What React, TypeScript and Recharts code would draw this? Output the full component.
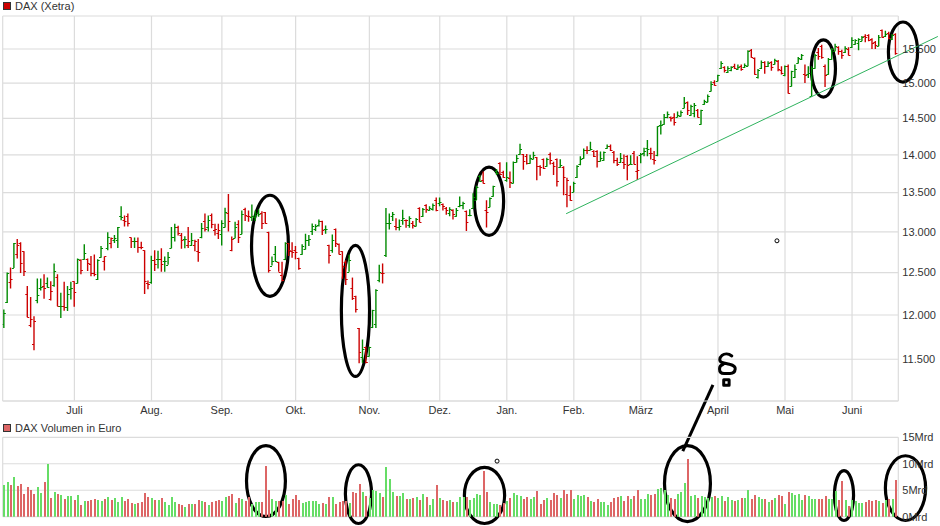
import React from 'react';
import { ComposedChart, Bar, Cell, XAxis, YAxis, CartesianGrid, ReferenceLine, ReferenceArea, ReferenceDot } from 'recharts';

const FONT = '"Liberation Sans", Arial, sans-serif';
const GRID = '#dcdcdc';

const highs = [
  12065,12500,12560,12860,12910,12870,12760,12340,12210,11985,
  12430,12430,12480,12440,12395,12610,12480,12260,12390,12340,
  12390,12395,12670,12660,12845,12670,12700,12720,12660,12825,
  12695,12995,12930,12960,13060,13325,13205,13230,12930,12930,
  12930,12875,12770,12405,12705,12770,12765,12795,12695,12750,
  13060,13100,13075,12985,12945,13060,12985,12900,12910,13110,
  13230,13205,13230,13100,13100,13145,13305,13480,12940,13125,
  13145,13270,13305,13270,13345,13270,13285,13260,13250,13000,
  12695,12825,12630,12630,12870,12860,12870,12825,12680,12845,
  12975,12960,13105,13095,13155,13140,13080,12840,12965,13040,
  12855,12760,12650,12715,12440,12225,11850,11720,11640,11640,
  12060,12300,12595,12610,13300,13230,13250,13170,13155,13280,
  13155,13195,13135,13175,13310,13300,13350,13325,13360,13435,
  13435,13360,13315,13310,13285,13300,13450,13380,13270,13285,
  13490,13590,13730,13775,13400,13435,13590,13810,13900,13785,
  13900,13775,13910,14000,14150,14010,14010,14000,14040,13970,
  13860,13950,13960,14030,13905,13950,13940,13845,13695,13590,
  13640,13860,13980,14085,14115,14175,14060,14060,14045,14045,
  14140,14140,14050,13960,14025,14005,13995,13995,14050,13980,
  14025,14095,14200,14095,14050,14390,14470,14560,14595,14525,
  14570,14595,14610,14800,14735,14690,14715,14630,14620,14760,
  14835,15025,15040,15120,15320,15245,15245,15245,15280,15270,
  15270,15285,15480,15500,15375,15205,15330,15320,15320,15320,
  15355,15335,15245,15255,15270,15180,15270,15380,15425,15270,
  15245,15245,15425,15515,15565,15270,15365,15515,15580,15540,
  15490,15540,15525,15675,15645,15660,15695,15720,15720,15660,
  15620,15710,15795,15775,15760,15725,15735,
];

const lows = [
  11850,12140,12310,12555,12670,12495,12460,11975,11860,11600,
  12135,12285,12190,12320,12170,12330,12100,11965,12050,12045,
  12180,12095,12370,12480,12655,12520,12455,12455,12410,12680,
  12525,12770,12795,12860,12800,13145,13065,13065,12800,12800,
  12740,12785,12245,12300,12365,12520,12550,12510,12510,12595,
  12795,12880,12955,12790,12795,12800,12825,12760,12630,12920,
  13005,13005,13045,12955,12910,12830,13055,13005,12760,12920,
  12860,12970,13135,13125,13135,13135,13190,13035,13100,12500,
  12585,12630,12510,12395,12650,12700,12680,12660,12535,12715,
  12780,12825,12960,13010,13065,12960,12975,12610,12740,12810,
  12720,12425,12350,12510,12175,12030,11455,11460,11455,11530,
  11850,11850,12385,12370,12690,13030,13135,13020,13015,13090,
  13050,13050,13040,13065,13120,13185,13240,13265,13270,13260,
  13325,13270,13215,13195,13155,13190,13310,13285,13010,13195,
  13300,13405,13640,13620,13055,13310,13445,13730,13745,13695,
  13640,13560,13620,13895,14000,13800,13870,13880,13940,13660,
  13720,13810,13840,13870,13730,13580,13825,13465,13310,13395,
  13505,13690,13860,13945,14010,14060,13970,13830,13910,13920,
  14080,14050,13885,13850,13890,13810,13660,13870,13870,13665,
  13885,13980,13980,13935,13870,13980,14275,14410,14500,14455,
  14400,14515,14525,14640,14545,14535,14515,14510,14410,14690,
  14725,14880,14960,15025,15205,15155,15145,15170,15205,15195,
  15180,15220,15245,15370,15120,15065,15205,15135,15235,15180,
  15270,15170,15125,15100,14850,14950,15075,15285,15335,15000,
  15075,14810,15210,15340,15355,14945,15120,15340,15465,15415,
  15355,15440,15405,15515,15565,15480,15615,15600,15615,15500,
  15500,15540,15670,15680,15645,15635,15415,
];

const opens = [
  11900,12150,12390,12555,12730,12860,12760,12250,11885,11670,
  12175,12310,12340,12370,12190,12350,12450,12100,12110,12095,
  12300,12395,12375,12655,12660,12660,12600,12490,12425,12690,
  12640,12800,12860,12900,12900,13205,13150,13195,12930,12880,
  12880,12815,12770,12375,12385,12650,12670,12670,12640,12595,
  12800,12930,13060,12965,12910,12830,12835,12835,12760,12940,
  13130,13060,13210,13020,12985,12975,13055,13240,12770,12920,
  13100,12970,13285,13205,13190,13190,13235,13235,13245,13000,
  12585,12730,12630,12470,12670,12855,12760,12770,12680,12720,
  12790,12900,13010,13030,13085,13140,13030,12830,12770,13035,
  12845,12760,12630,12510,12310,12220,11850,11530,11640,11540,
  11860,11895,12415,12490,12715,13105,13195,13070,13065,13145,
  13150,13080,13105,13070,13300,13195,13345,13280,13285,13400,
  13360,13350,13300,13240,13280,13195,13325,13340,13260,13210,
  13300,13405,13720,13660,13270,13315,13450,13780,13885,13770,
  13660,13695,13630,13905,14015,14005,13980,13890,13945,13965,
  13850,13940,13850,14015,13885,13940,13830,13835,13480,13470,
  13510,13700,13870,13960,14070,14065,14045,14045,13920,13930,
  14090,14125,14035,13935,13900,13900,13990,13875,14025,13780,
  14000,14020,14095,14025,13940,13995,14410,14415,14515,14515,
  14515,14525,14535,14650,14725,14550,14570,14620,14415,14695,
  14735,14890,15010,15035,15215,15235,15160,15195,15255,15210,
  15245,15230,15255,15490,15365,15085,15220,15305,15255,15305,
  15280,15320,15185,15115,15255,14960,15085,15295,15345,15130,
  15135,14820,15220,15450,15550,15245,15130,15350,15475,15530,
  15465,15450,15505,15525,15575,15585,15625,15695,15710,15645,
  15600,15550,15785,15700,15745,15645,15725,
];

const closes = [
  12020,12495,12420,12855,12830,12610,12520,11980,11950,11930,
  12230,12330,12320,12330,12280,12520,12100,12110,12095,12250,
  12320,12270,12665,12525,12735,12610,12495,12480,12655,12800,
  12695,12930,12920,12925,13055,13190,13140,13110,12880,12885,
  12815,12810,12395,12360,12650,12600,12670,12600,12640,12690,
  12940,13060,12990,12900,12910,12880,12895,12880,12755,13045,
  13040,13150,13100,13030,13020,13110,13250,13140,12910,13065,
  12930,13230,13215,13195,13200,13210,13225,13110,13105,12525,
  12640,12645,12510,12415,12865,12780,12755,12750,12550,12825,
  12900,12910,13070,13075,13135,13020,13035,12710,12900,12855,
  12730,12580,12425,12650,12200,12070,11580,11610,11465,11640,
  12060,12295,12510,12490,13105,13110,13220,13065,13075,13175,
  13145,13175,13080,13155,13120,13290,13285,13300,13340,13270,
  13380,13325,13280,13285,13225,13280,13340,13360,13120,13215,
  13440,13570,13650,13630,13255,13425,13580,13760,13750,13700,
  13705,13640,13905,13960,14080,13910,13890,13960,14000,13850,
  13830,13820,13940,13935,13850,13650,13860,13700,13660,13405,
  13620,13850,13940,14065,14060,14075,13980,13910,13960,14040,
  14115,14070,13935,13880,13960,13870,13865,13875,13870,13790,
  14005,14050,14080,14020,13930,14395,14410,14525,14560,14500,
  14455,14550,14595,14720,14620,14675,14680,14525,14610,14750,
  14820,14990,14970,15110,15295,15185,15220,15235,15220,15235,
  15205,15260,15465,15375,15130,15185,15305,15245,15295,15235,
  15335,15205,15145,15245,14860,15170,15205,15365,15415,15120,
  15145,15220,15415,15400,15380,15120,15355,15500,15540,15465,
  15405,15515,15415,15635,15640,15645,15685,15680,15640,15590,
  15565,15685,15680,15720,15660,15710,15440,
];

// Mrd Euro
const volumes = [
  6.0,6.5,6.0,7.5,5.8,6.2,4.3,5.6,5.0,4.3,
  5.6,4.5,6.5,9.9,3.5,4.7,4.2,4.1,3.3,3.9,
  3.9,3.1,4.1,2.2,3.0,3.0,3.1,3.3,3.1,3.0,
  3.3,3.7,3.1,3.5,2.8,3.7,3.0,3.3,2.6,2.4,
  2.6,2.8,4.5,3.7,3.5,3.1,3.1,3.5,2.8,2.2,
  3.7,2.8,2.4,2.2,1.8,2.4,2.4,2.4,3.1,3.0,
  2.8,2.2,2.8,3.0,3.1,3.0,3.7,3.9,4.3,2.6,
  3.5,3.3,3.0,3.7,2.4,2.8,2.8,2.8,9.6,5.0,
  3.3,3.0,3.0,3.0,4.1,2.4,3.3,4.1,3.1,2.6,
  2.8,3.0,3.0,3.0,2.4,2.6,2.4,3.7,3.7,2.4,
  2.8,3.0,3.0,2.6,4.7,4.5,6.2,4.7,3.9,3.5,
  5.0,4.8,4.5,3.7,9.4,7.1,4.7,3.9,3.9,4.5,
  3.3,3.3,3.5,3.7,3.1,4.3,3.7,2.2,3.3,6.0,
  3.5,3.1,3.0,3.1,2.8,2.8,3.7,3.7,3.7,3.1,
  3.5,4.3,4.1,8.6,4.7,2.8,2.4,2.4,2.2,2.6,
  3.0,3.5,4.5,4.1,3.9,3.3,3.7,3.3,3.7,4.8,
  2.4,3.1,3.5,3.1,4.5,4.1,3.5,5.0,4.3,5.0,
  3.3,4.1,3.9,4.1,3.7,3.0,2.8,3.3,2.8,2.8,
  2.2,2.8,3.5,3.7,3.9,3.0,3.9,3.4,3.9,5.1,
  3.4,3.4,4.3,4.1,4.3,5.2,5.4,5.1,4.1,3.5,
  3.4,4.3,4.7,6.4,10.9,3.9,4.1,3.6,3.9,3.8,
  3.6,3.8,3.9,3.6,3.9,3.0,3.8,3.2,3.0,3.2,
  3.6,3.6,5.1,3.4,4.1,3.8,3.4,3.4,2.8,3.2,
  3.6,4.1,3.9,2.4,4.7,4.5,4.1,4.3,3.2,4.1,
  3.9,3.4,3.4,3.4,3.4,3.9,3.4,3.4,4.9,3.2,
  6.8,3.2,2.1,3.2,3.0,2.6,2.6,2.8,3.2,3.0,
  3.2,3.0,2.6,3.2,3.4,3.4,6.9,
];

const monthLabels = ['Juli', 'Aug.', 'Sep.', 'Okt.', 'Nov.', 'Dez.', 'Jan.', 'Feb.', 'März', 'April', 'Mai', 'Juni'];
const monthStarts = [21, 44, 65, 87, 109, 130, 150, 170, 190, 213, 233, 253];
const xRange = [-0.39, 266.8];

const priceRange = [11047, 16000];
const priceTicks = [11500, 12000, 12500, 13000, 13500, 14000, 14500, 15000, 15500];
const volumeRange = [0, 15];
const volumeTicks = [0, 5, 10, 15];

// hand drawn things on the chart, in data units: [firstBar, lastBar, top, bottom]
const priceRings = [
  [73.4, 85.3, 13485, 12200],
  [100.2, 109.5, 12851, 11295],
  [139.9, 149.5, 13854, 12937],
  [240.4, 248.5, 15658, 14778],
  [263.4, 273, 15931, 14993],
];
const volumeRings = [
  [71.9, 84.4, 13.7, -0.25],
  [101.4, 110.1, 10.1, -1.57],
  [136.9, 149.8, 9.6, -1.57],
  [196.6, 211.2, 13.7, -1.2],
  [247.3, 253.9, 9.0, -1.0],
  [262.5, 275.4, 11.8, -1.0],
];
const trendLine = [[167.7, 13228], [278.6, 15688]];
const arrowLine = [[211.5, 11219], [202.5, 10527]];
const priceDot = [230.6, 12888];
const volumeDot = [147.1, 10.5];
const scribbleAt = [215.7, 11382];

const rows = highs.map((high, i) => ({
  i,
  high,
  low: lows[i],
  open: opens[i],
  close: closes[i],
  volume: volumes[i],
  up: i === 0 || closes[i] >= closes[i - 1],
}));

const xTicks = [xRange[0], ...monthStarts, xRange[1]];
const monthText = (v: number) => {
  const k = monthStarts.indexOf(v);
  return k < 0 ? '' : monthLabels[k];
};
const priceText = (v: number) => (priceTicks.includes(v) ? String(v).replace(/(\d)(\d{3})$/, '$1.$2') : '');

const tickStyle = { fontSize: 11, fontFamily: FONT, fill: '#333' };

function OhlcBar(props: any) {
  const { x, y, width, height, payload } = props;
  const span = Math.log(payload.high / payload.low);
  const at = (v: number) => Math.round(y + (height * Math.log(payload.high / v)) / span) + 0.5;
  const cx = x + width / 2;
  const color = payload.up ? '#008a00' : '#cc0000';
  return (
    <g stroke={color}>
      <line x1={cx} x2={cx} y1={y} y2={y + height} strokeWidth={1.4} />
      <line x1={cx - 2} x2={cx} y1={at(payload.open)} y2={at(payload.open)} strokeWidth={1} />
      <line x1={cx} x2={cx + 2} y1={at(payload.close)} y2={at(payload.close)} strokeWidth={1} />
    </g>
  );
}

function Ring(props: any) {
  const { x, y, width, height } = props;
  return (
    <ellipse
      cx={x + width / 2}
      cy={y + height / 2}
      rx={Math.abs(width) / 2 - 1.5}
      ry={Math.abs(height) / 2 - 1.5}
      fill="none"
      stroke="#000"
      strokeWidth={3.2}
    />
  );
}

function SmallDot(props: any) {
  return <circle cx={props.cx} cy={props.cy} r={2} fill="#fff" stroke="#000" strokeWidth={1} />;
}

function Scribble(props: any) {
  const { cx, cy } = props;
  return (
    <g transform={`translate(${cx} ${cy})`} fill="none" stroke="#000" strokeWidth={3} strokeLinecap="round" strokeLinejoin="round">
      <path d="M4.8 -14 C1.5 -16.5 -2.5 -16.5 -5 -14.5 C-8 -12 -8 -8.5 -5 -7.5 C-2 -6.5 0 -6.5 2.5 -5.7 C6 -4.8 8.5 -3.5 8.2 -1 C8 2 6 3.5 3 3.5 L-3 3.5 C-6 3.5 -7.5 1.5 -7.5 -1 C-7.5 -3.5 -6 -5 -4 -5.5" />
      <rect x={-3.3} y={9.8} width={5.4} height={5.4} strokeWidth={3} />
    </g>
  );
}

function SeriesLabel({ top, color, text }: { top: number; color: string; text: string }) {
  return (
    <div style={{ position: 'absolute', left: 3, top, height: 12, display: 'flex', alignItems: 'center', fontFamily: FONT, fontSize: 11, color: '#333' }}>
      <span style={{ width: 6, height: 6, background: color, border: '1px solid #333', marginRight: 4 }} />
      {text}
    </div>
  );
}

export default function App() {
  return (
    <div style={{ position: 'absolute', left: 0, top: 0, width: 940, height: 526, background: '#fff', overflow: 'hidden' }}>
      <SeriesLabel top={0} color="#cc0000" text="DAX (Xetra)" />
      <SeriesLabel top={422} color="#dd6666" text="DAX Volumen in Euro" />

      <div style={{ position: 'absolute', left: 0, top: 0 }}>
        <ComposedChart width={940} height={526} data={rows} margin={{ top: 16, right: 0, bottom: 105, left: 2.7 }} barGap={0}>
          <CartesianGrid stroke={GRID} strokeWidth={1.2} />
          <XAxis
            dataKey="i"
            type="number"
            domain={xRange}
            allowDataOverflow
            ticks={xTicks}
            interval={0}
            tickFormatter={monthText}
            height={20}
            tickLine={false}
            axisLine={{ stroke: GRID, strokeWidth: 1.2 }}
            tick={{ ...tickStyle, dy: -3 }}
            tickMargin={2}
          />
          <YAxis
            orientation="right"
            scale="log"
            domain={priceRange}
            allowDataOverflow
            ticks={[priceRange[0], ...priceTicks, priceRange[1]]}
            interval={0}
            tickFormatter={priceText}
            width={41.7}
            tickLine={false}
            axisLine={false}
            tick={tickStyle}
            tickSize={0}
            tickMargin={4}
          />
          <Bar dataKey={(d: any) => [d.low, d.high]} barSize={3} shape={OhlcBar} isAnimationActive={false} />
          <ReferenceLine
            segment={trendLine.map(([x, y]) => ({ x, y }))}
            stroke="#2fb35e"
            strokeWidth={1}
            ifOverflow="visible"
          />
          <ReferenceLine
            segment={arrowLine.map(([x, y]) => ({ x, y }))}
            stroke="#000"
            strokeWidth={3}
            ifOverflow="visible"
          />
          {priceRings.map(([x1, x2, y1, y2]) => (
            <ReferenceArea key={x1} x1={x1} x2={x2} y1={y1} y2={y2} shape={Ring} ifOverflow="visible" />
          ))}
          <ReferenceDot x={priceDot[0]} y={priceDot[1]} shape={SmallDot} ifOverflow="visible" />
          <ReferenceDot x={scribbleAt[0]} y={scribbleAt[1]} shape={Scribble} ifOverflow="visible" />
        </ComposedChart>
      </div>

      <div style={{ position: 'absolute', left: 0, top: 0 }}>
        <ComposedChart width={940} height={526} data={rows} margin={{ top: 437.3, right: 0, bottom: 9.3, left: 2.7 }}>
          <CartesianGrid stroke={GRID} strokeWidth={1.2} />
          <XAxis
            dataKey="i"
            type="number"
            domain={xRange}
            allowDataOverflow
            ticks={xTicks}
            interval={0}
            height={0}
            tick={false}
            tickLine={false}
            axisLine={{ stroke: GRID, strokeWidth: 1.2 }}
          />
          <YAxis
            orientation="right"
            domain={volumeRange}
            allowDataOverflow
            ticks={volumeTicks}
            interval={0}
            tickFormatter={(v: number) => `${v}Mrd`}
            width={41.7}
            tickLine={false}
            axisLine={false}
            tick={tickStyle}
            tickSize={0}
            tickMargin={4}
          />
          <Bar dataKey="volume" barSize={2} isAnimationActive={false}>
            {rows.map(r => (
              <Cell key={r.i} fill={r.up ? '#66dd66' : '#dd6666'} shapeRendering="crispEdges" />
            ))}
          </Bar>
          {volumeRings.map(([x1, x2, y1, y2]) => (
            <ReferenceArea key={x1} x1={x1} x2={x2} y1={y1} y2={y2} shape={Ring} ifOverflow="visible" />
          ))}
          <ReferenceDot x={volumeDot[0]} y={volumeDot[1]} shape={SmallDot} ifOverflow="visible" />
        </ComposedChart>
      </div>
    </div>
  );
}
